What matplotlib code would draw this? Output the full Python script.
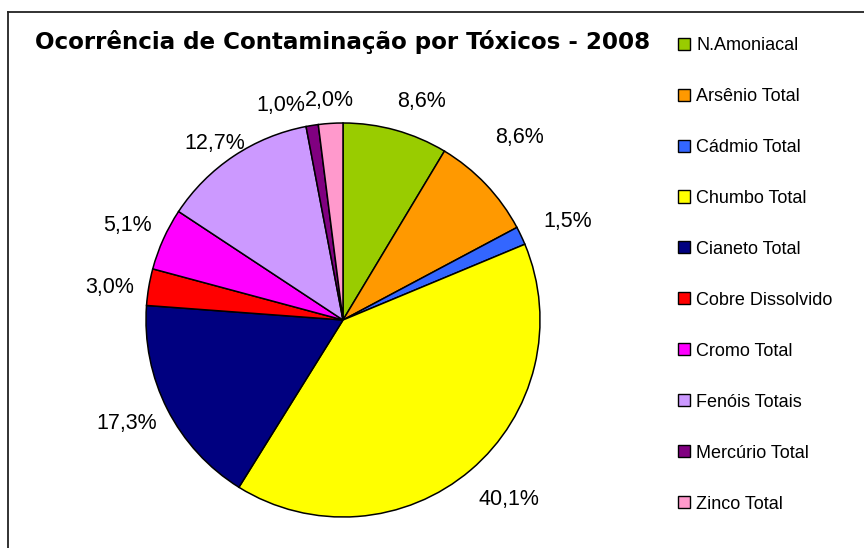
import numpy as np
import matplotlib.pyplot as plt
from matplotlib.patches import Patch
from matplotlib.lines import Line2D

categories = ["N.Amoniacal", "Arsênio Total", "Cádmio Total", "Chumbo Total",
              "Cianeto Total", "Cobre Dissolvido", "Cromo Total", "Fenóis Totais",
              "Mercúrio Total", "Zinco Total"]
percent = [8.6, 8.6, 1.5, 40.1, 17.3, 3.0, 5.1, 12.7, 1.0, 2.0]
colors = ["#99CC00", "#FF9900", "#3366FF", "#FFFF00", "#000080",
          "#FF0000", "#FF00FF", "#CC99FF", "#800080", "#FF99CC"]

# label placement tweaks (distance in radii, angle nudge in degrees)
label_dist = [1.19, 1.30, 1.25, 1.23, 1.21, 1.20, 1.20, 1.12, 1.15, 1.13]
label_nudge = [-4, 3, -1, 3, -2, 1, 0, 2, 7, 0]

plt.rcParams["font.family"] = ["Liberation Sans", "DejaVu Sans"]

W, H = 864, 548
fig = plt.figure(figsize=(W / 100, H / 100), dpi=100)

# pie axes: centre (343, 320) px, radius 197 px
cx, cy, r = 343, 320, 197
ax = fig.add_axes([(cx - r) / W, (H - cy - r) / H, 2 * r / W, 2 * r / H])
wedges, _ = ax.pie(percent, colors=colors, startangle=90, counterclock=False,
                   wedgeprops=dict(edgecolor="black", linewidth=1.1))
for w, v, d, n in zip(wedges, percent, label_dist, label_nudge):
    ang = np.deg2rad((w.theta1 + w.theta2) / 2 + n)
    ax.text(d * np.cos(ang), d * np.sin(ang) - 0.015, f"{v:.1f}%".replace(".", ","),
            ha="center", va="center", fontsize=15.5)
ax.set_xlim(-1, 1)
ax.set_ylim(-1, 1)

fig.text(35 / W, 1 - 42 / H, "Ocorrência de Contaminação por Tóxicos - 2008",
         fontsize=16.6, fontweight="bold", family="DejaVu Sans",
         ha="left", va="center")

handles = [Patch(facecolor=c, edgecolor="black", linewidth=1.0) for c in colors]
fig.legend(handles, categories, loc="upper left",
           bbox_to_anchor=(678 / W, 1 - 37 / H), frameon=False,
           fontsize=13, handlelength=0.65, handleheight=0.65,
           handletextpad=0.35, labelspacing=1.88, borderpad=0, borderaxespad=0)

# chart area border (top and left only visible)
fig.add_artist(Line2D([8 / W, 8 / W], [0, 1 - 12 / H], transform=fig.transFigure,
                      color="#222222", linewidth=1.3))
fig.add_artist(Line2D([8 / W, 1], [1 - 12 / H, 1 - 12 / H], transform=fig.transFigure,
                      color="#222222", linewidth=1.3))

fig.savefig("out.png", dpi=100)
